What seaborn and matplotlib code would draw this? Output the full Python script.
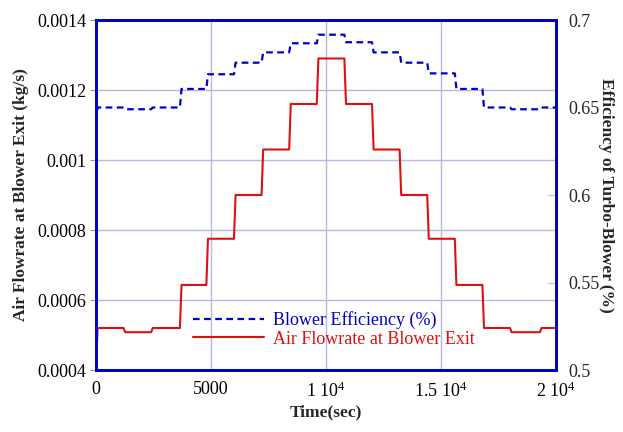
import numpy as np
import pandas as pd
import matplotlib
matplotlib.use("Agg")
import matplotlib.pyplot as plt
from matplotlib.lines import Line2D
import seaborn as sns

# step change times (s) and the level held from each time until the next
step_times = [0, 1200, 2400, 3650, 4800, 6000, 7200, 8400, 9600, 10800,
              12000, 13200, 14400, 15600, 16800, 18000, 19300, 20000]
flow_levels = [0.00052, 0.000508, 0.00052, 0.000643, 0.000775, 0.0009, 0.00103,
               0.00116, 0.00129, 0.00116, 0.00103, 0.0009, 0.000775, 0.000643,
               0.00052, 0.000508, 0.00052]
eff_levels = [0.650, 0.649, 0.650, 0.6606, 0.669, 0.6756, 0.6815, 0.6867, 0.6916,
              0.6873, 0.6815, 0.6756, 0.6695, 0.6606, 0.650, 0.649, 0.650]
# start-up transient at t=0
flow_start = 0.0004
eff_start = 0.642

x_ticks = [0, 5000, 10000, 15000, 20000]
x_labels = ["0", "5000", r"1 $\mathregular{10^{4}}$", r"1.5 $\mathregular{10^{4}}$",
            r"2 $\mathregular{10^{4}}$"]
left_ticks = [0.0004, 0.0006, 0.0008, 0.001, 0.0012, 0.0014]
left_labels = ["0.0004", "0.0006", "0.0008", "0.001", "0.0012", "0.0014"]
right_ticks = [0.5, 0.55, 0.6, 0.65, 0.7]
right_labels = ["0.5", "0.55", "0.6", "0.65", "0.7"]

RAMP = 70  # seconds taken by each step transition


def step_frame(start, levels):
    t = [0.0]
    v = [start]
    for i, lev in enumerate(levels):
        t += [step_times[i] + RAMP, step_times[i + 1]]
        v += [lev, lev]
    return pd.DataFrame({"t": t, "v": v})


flow = step_frame(flow_start, flow_levels)
eff = step_frame(eff_start, eff_levels)

sns.set_style("white")
plt.rcParams["font.family"] = ["Liberation Serif", "DejaVu Serif"]
plt.rcParams["mathtext.fontset"] = "custom"
plt.rcParams["mathtext.rm"] = "Liberation Serif"

RED = "#dd1111"
BLUE = "#0000cc"
GRID = "#b8b8dc"

fig = plt.figure(figsize=(6.23, 4.32), dpi=100)
ax = fig.add_axes([0.154, 0.1435, 0.7385, 0.8102])
ax2 = ax.twinx()

sns.lineplot(data=flow, x="t", y="v", ax=ax, estimator=None, sort=False,
             color=RED, linewidth=1.5)
sns.lineplot(data=eff, x="t", y="v", ax=ax2, estimator=None, sort=False,
             color=BLUE, linewidth=1.6, linestyle=(0, (3, 2)))

ax.set_xlim(0, 20000)
ax.set_ylim(0.0004, 0.0014)
ax2.set_ylim(0.5, 0.7)

ax.set_xticks(x_ticks)
ax.set_xticklabels(x_labels)
ax.set_yticks(left_ticks)
ax.set_yticklabels(left_labels)
ax2.set_yticks(right_ticks)
ax2.set_yticklabels(right_labels)

ax.grid(True, color=GRID, linewidth=1)
ax.set_axisbelow(True)
ax.tick_params(axis="both", labelsize=13, colors="black")
ax.tick_params(axis="y", direction="out", length=4, color="#999999", pad=3)
ax.tick_params(axis="x", length=0, pad=8)
ax2.tick_params(axis="y", direction="in", length=6, color=GRID, labelsize=13, pad=9)

for a in (ax, ax2):
    for s in a.spines.values():
        s.set_color(BLUE)
        s.set_linewidth(2)

ax.set_xlabel("Time(sec)", fontsize=12.5, fontweight="bold", labelpad=3)
ax.set_ylabel("Air Flowrate at Blower Exit (kg/s)", fontsize=12.5,
              fontweight="bold", labelpad=6)
ax2.set_ylabel("Efficiency of Turbo-Blower (%)", fontsize=12.5,
               fontweight="bold", rotation=270, labelpad=10)

handles = [Line2D([], [], color=BLUE, linewidth=1.6, linestyle=(0, (3, 2))),
           Line2D([], [], color=RED, linewidth=1.5)]
leg = ax2.legend(handles, ["Blower Efficiency (%)", "Air Flowrate at Blower Exit"],
                 loc="lower left", bbox_to_anchor=(0.196, 0.043), frameon=False,
                 fontsize=13, handlelength=3.9, handletextpad=0.5,
                 labelspacing=0.1, borderaxespad=0)
for txt, col in zip(leg.get_texts(), [BLUE, RED]):
    txt.set_color(col)

fig.savefig("out.png", dpi=100)
